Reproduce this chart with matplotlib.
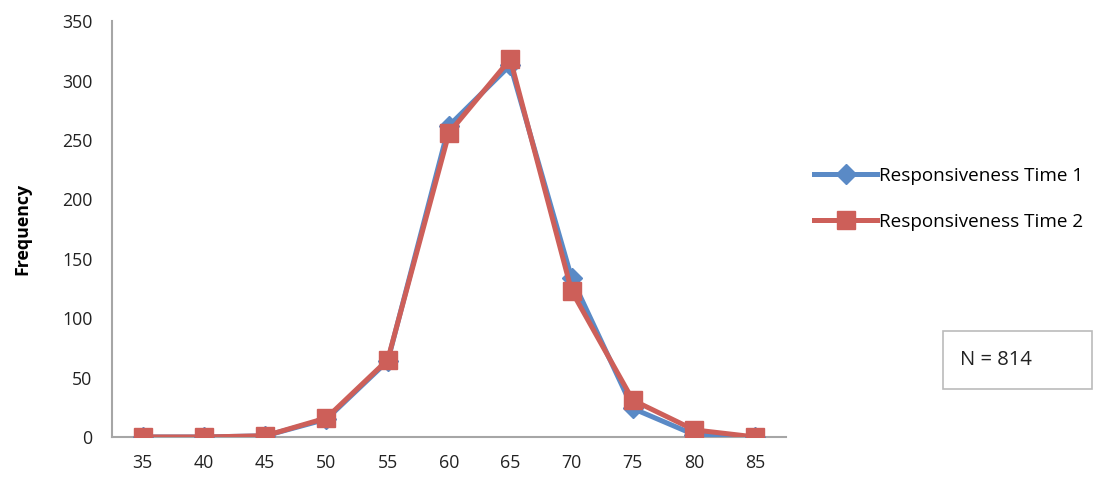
import numpy as np
import matplotlib.pyplot as plt
from matplotlib.patches import Rectangle

plt.rcParams['font.family'] = ['Open Sans', 'DejaVu Sans']

# frequency counts per score bin
scores = ['35', '40', '45', '50', '55', '60', '65', '70', '75', '80', '85']
time1 = [0, 0, 1, 15, 64, 262, 313, 134, 24, 2, 0]
time2 = [0, 0, 1, 16, 65, 256, 318, 123, 31, 6, 0]
n_total = 814

blue = '#5a8ac6'
red = '#cd5f59'
grey = '#a6a6a6'

W, H = 1116, 491
fig = plt.figure(figsize=(W / 100, H / 100), dpi=100)
ax = fig.add_axes([0.1004, 0.11, 0.6039, 0.847])

x = np.arange(len(scores))
l1, = ax.plot(x, time1, color=blue, lw=3.6, marker='D', ms=10.5,
              mec=blue, mfc=blue, label='Responsiveness Time 1', zorder=3)
l2, = ax.plot(x, time2, color=red, lw=3.6, marker='s', ms=13.5,
              mec=red, mfc=red, label='Responsiveness Time 2', zorder=4)

ax.set_xlim(-0.5, len(scores) - 0.5)
ax.set_ylim(0, 350)
ax.set_yticks(range(0, 351, 50))
ax.set_xticks(x)
ax.set_xticklabels(scores)
ax.tick_params(axis='both', length=0, labelsize=12.8, colors='#222222')
ax.tick_params(axis='x', pad=12)
ax.tick_params(axis='y', pad=14)
for side in ['top', 'right']:
    ax.spines[side].set_visible(False)
for side in ['left', 'bottom']:
    ax.spines[side].set_color(grey)
    ax.spines[side].set_linewidth(1.5)
for lab in ax.get_xticklabels() + ax.get_yticklabels():
    lab.set_clip_on(False)
ax.set_ylabel('Frequency', fontsize=12.8, fontweight='bold', labelpad=22)

fig.legend(handles=[l1, l2], loc='center left',
           bbox_to_anchor=(0.723, 0.595), frameon=False,
           fontsize=13.6, handlelength=3.3, handletextpad=0.1,
           labelspacing=1.5, borderaxespad=0)

# sample size box
fig.add_artist(Rectangle((943 / W, 1 - 389 / H), 149 / W, 58 / H,
                         transform=fig.transFigure, fc='white',
                         ec='#bbbbbb', lw=1.2))
fig.text(960 / W, 1 - 360 / H, 'N = %d' % n_total, fontsize=14.5,
         ha='left', va='center', color='#222222')

fig.savefig('out.png', dpi=100)
